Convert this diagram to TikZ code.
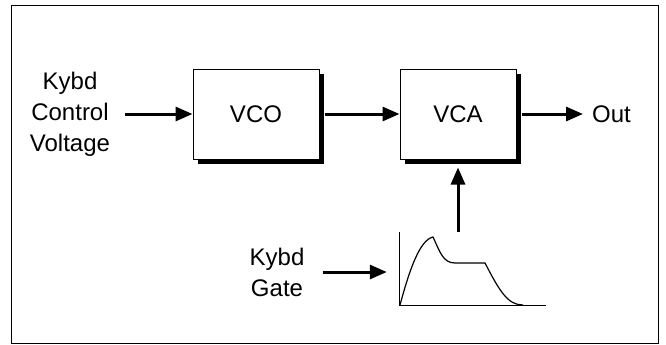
\documentclass[tikz,border=0pt]{standalone}
\usepackage{fontspec}
\setmainfont{Liberation Sans}
\usetikzlibrary{arrows.meta}

\tikzset{
	block/.style={draw, line width=1pt, fill=white, minimum height=90pt, inner sep=0pt,
		font=\fontsize{24}{31}\selectfont},
	label/.style={align=center, inner sep=0pt, font=\fontsize{24}{31}\selectfont},
	sig/.style={line width=3pt, -{Triangle[length=17pt, width=14pt]}}
}

\begin{document}
\begin{tikzpicture}[x=1pt, y=-1pt]
		\useasboundingbox (0,0) rectangle (666,345);
		% Frame
		\draw[line width=1pt] (11,6) rectangle (658,343);
		
		% Shadows
		\fill (198,74) rectangle (324,164);
		\fill (405,74) rectangle (521,164);
		
		% Modules
		\node[block, minimum width=126pt] (vco) at (256,114) {VCO};
		\node[block, minimum width=116pt] (vca) at (458,114) {VCA};
		
		% Labels
		\node[label] (cv) at (70,114) {Kybd\\Control\\Voltage};
		\node[label, anchor=west] (out) at (592,114) {Out};
		\node[label] (gate) at (277,272) {Kybd\\Gate};
		
		% Envelope
		\node[minimum width=146pt, minimum height=73pt, inner sep=0pt] (env) at (473,268.5) {};
		\draw[line width=1pt] (env.north west) -- (env.south west) -- (env.south east);
		\draw[line width=1.2pt] (400,305) .. controls (410,268) and (420,240) .. (433,237)
			.. controls (440,252) and (443,263) .. (455,263) -- (485,263)
			.. controls (500,292) and (508,305) .. (523,305);
		
		% Signals
		\draw[sig, shorten <=15pt] (cv.east) -- (vco.west);
		\draw[sig, shorten <=5pt] (vco.east) -- (vca.west);
		\draw[sig, shorten <=5pt, shorten >=9pt] (vca.east) -- (out.west);
		\draw[sig, shorten <=18pt, shorten >=13pt] (gate.east) -- (gate.east -| env.west);
		\draw[sig, shorten >=8pt] (env.north -| vca.south) -- (vca.south);
	\end{tikzpicture}
\end{document}
